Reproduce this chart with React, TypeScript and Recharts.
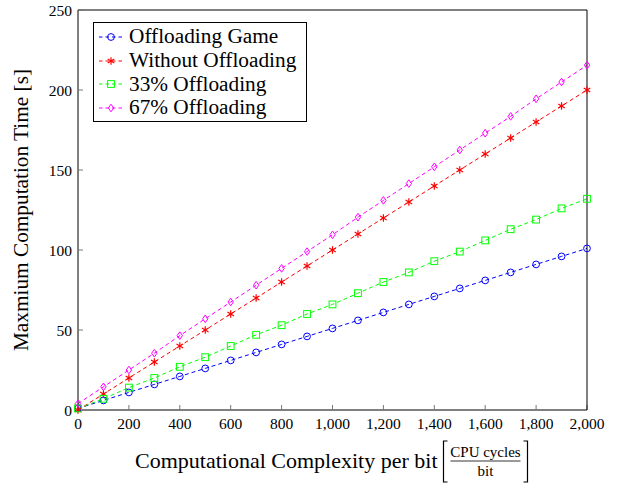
import React from 'react';
import { LineChart, Line, XAxis, YAxis, Legend } from 'recharts';

const X_VALUES = [0, 100, 200, 300, 400, 500, 600, 700, 800, 900, 1000, 1100, 1200, 1300, 1400, 1500, 1600, 1700, 1800, 1900, 2000];
const GAME = [1, 6, 11, 16, 21, 26, 31, 36, 41, 46, 51, 56, 61, 66, 71, 76, 81, 86, 91, 96, 101];
const WITHOUT = [0, 10, 20, 30, 40, 50, 60, 70, 80, 90, 100, 110, 120, 130, 140, 150, 160, 170, 180, 190, 200];
const OFF33 = [1, 7, 14, 20, 27, 33, 40, 47, 53, 60, 66, 73, 80, 86, 93, 99, 106, 113, 119, 126, 132];
const OFF67 = [4, 14.5, 25, 35.5, 46.5, 57, 67.5, 78, 88.5, 99, 109.5, 120.5, 131, 141.5, 152, 162.5, 173, 183.5, 194.5, 205, 215.5];

const X_TICKS = [0, 200, 400, 600, 800, 1000, 1200, 1400, 1600, 1800, 2000];
const Y_TICKS = [0, 50, 100, 150, 200, 250];

const data = X_VALUES.map((x, i) => ({
  x,
  game: GAME[i],
  without: WITHOUT[i],
  off33: OFF33[i],
  off67: OFF67[i],
}));

const FONT = '"Liberation Serif", "Times New Roman", serif';
const BLUE = '#0000ff';
const RED = '#ff0000';
const GREEN = '#00ff00';
const MAGENTA = '#ff00ff';
const DASH = '4 3';

const CircleMark = ({ cx, cy, color }: any) => (
  <circle cx={cx} cy={cy} r={3.4} fill="none" stroke={color} strokeWidth={1} />
);

const StarMark = ({ cx, cy, color }: any) => {
  const r = 3.8;
  const a = r * 0.866;
  const b = r * 0.5;
  return (
    <g stroke={color} strokeWidth={1.2}>
      <line x1={cx} y1={cy - r} x2={cx} y2={cy + r} />
      <line x1={cx - a} y1={cy - b} x2={cx + a} y2={cy + b} />
      <line x1={cx - a} y1={cy + b} x2={cx + a} y2={cy - b} />
    </g>
  );
};

const SquareMark = ({ cx, cy, color }: any) => (
  <rect x={cx - 3.4} y={cy - 3.4} width={6.8} height={6.8} fill="none" stroke={color} strokeWidth={1} />
);

const DiamondMark = ({ cx, cy, color }: any) => (
  <polygon
    points={`${cx},${cy - 3.8} ${cx + 2.7},${cy} ${cx},${cy + 3.8} ${cx - 2.7},${cy}`}
    fill="none"
    stroke={color}
    strokeWidth={1}
  />
);

const series = [
  { key: 'game', name: 'Offloading Game', color: BLUE, Mark: CircleMark },
  { key: 'without', name: 'Without Offloading', color: RED, Mark: StarMark },
  { key: 'off33', name: '33% Offloading', color: GREEN, Mark: SquareMark },
  { key: 'off67', name: '67% Offloading', color: MAGENTA, Mark: DiamondMark },
];

const LegendBox = () => (
  <div
    style={{
      boxSizing: 'border-box',
      width: 214,
      border: '1px solid #000',
      background: '#fff',
      padding: '2px 0 1px 4px',
      fontFamily: FONT,
      fontSize: 21.3,
      color: '#000',
    }}
  >
    {series.map((s) => (
      <div key={s.key} style={{ display: 'flex', alignItems: 'center', height: 23.7 }}>
        <svg width={26} height={14} style={{ marginRight: 5, flexShrink: 0 }}>
          <line x1={1} y1={7} x2={25} y2={7} stroke={s.color} strokeWidth={1} strokeDasharray="3.5 3" />
          <s.Mark cx={13} cy={7} color={s.color} />
        </svg>
        <span style={{ whiteSpace: 'nowrap' }}>{s.name}</span>
      </div>
    ))}
  </div>
);

const XLabel = ({ viewBox }: any) => {
  const cx = viewBox.x + viewBox.width / 2;
  const base = 468;
  const bl = cx + 111;
  const br = cx + 195;
  const fc = (bl + br) / 2;
  return (
    <g fontFamily={FONT} fill="#000">
      <text x={cx + 105} y={base} textAnchor="end" fontSize={22}>
        Computational Complexity per bit
      </text>
      <path d={`M${bl + 4},441 L${bl},441 L${bl},482 L${bl + 4},482`} fill="none" stroke="#000" strokeWidth={1.2} />
      <path d={`M${br - 4},441 L${br},441 L${br},482 L${br - 4},482`} fill="none" stroke="#000" strokeWidth={1.2} />
      <text x={fc} y={456.5} textAnchor="middle" fontSize={15}>
        CPU cycles
      </text>
      <line x1={fc - 35} y1={461} x2={fc + 35} y2={461} stroke="#000" strokeWidth={0.8} />
      <text x={fc} y={475.5} textAnchor="middle" fontSize={15}>
        bit
      </text>
    </g>
  );
};

const YLabel = ({ viewBox }: any) => {
  const x = 28;
  const y = viewBox.y + viewBox.height / 2;
  return (
    <text
      x={x}
      y={y}
      transform={`rotate(-90, ${x}, ${y})`}
      textAnchor="middle"
      fontFamily={FONT}
      fontSize={21.3}
      fill="#000"
    >
      Maxmium Computation Time [s]
    </text>
  );
};

const tickStyle = { fill: '#000', fontSize: 15.5, fontFamily: FONT };
const tickLineStyle = { stroke: '#777', strokeWidth: 1 };
const axisLineStyle = { stroke: '#000', strokeWidth: 1 };

export default function App() {
  return (
    <div style={{ position: 'absolute', left: 0, top: 0, background: '#fff' }}>
      <LineChart width={630} height={485} data={data} margin={{ top: 9, right: 42, bottom: 25, left: 18 }}>
        <XAxis
          xAxisId="b"
          type="number"
          dataKey="x"
          domain={[0, 2000]}
          ticks={X_TICKS}
          tickFormatter={(v: number) => v.toLocaleString('en-US')}
          tick={tickStyle}
          tickLine={tickLineStyle}
          axisLine={axisLineStyle}
          tickSize={-5}
          tickMargin={13}
          height={50}
          label={<XLabel />}
        />
        <XAxis
          xAxisId="t"
          orientation="top"
          type="number"
          dataKey="x"
          domain={[0, 2000]}
          ticks={X_TICKS}
          tick={false}
          tickLine={tickLineStyle}
          axisLine={axisLineStyle}
          tickSize={-5}
          height={1}
        />
        <YAxis
          yAxisId="l"
          type="number"
          domain={[0, 250]}
          ticks={Y_TICKS}
          tick={tickStyle}
          tickLine={tickLineStyle}
          axisLine={axisLineStyle}
          tickSize={-5}
          tickMargin={11}
          width={60}
          label={<YLabel />}
        />
        <YAxis
          yAxisId="r"
          orientation="right"
          type="number"
          domain={[0, 250]}
          ticks={Y_TICKS}
          tick={false}
          tickLine={tickLineStyle}
          axisLine={axisLineStyle}
          tickSize={-5}
          width={1}
        />
        <Legend
          layout="vertical"
          align="center"
          verticalAlign="middle"
          content={() => <LegendBox />}
          wrapperStyle={{ left: 93, top: 22, width: 214, height: 'auto' }}
        />
        {series.map((s) => (
          <Line
            key={s.key}
            xAxisId="b"
            yAxisId="l"
            type="linear"
            dataKey={s.key}
            name={s.name}
            stroke={s.color}
            strokeWidth={1}
            strokeDasharray={DASH}
            dot={(p: any) => <s.Mark key={`${s.key}-${p.index}`} cx={p.cx} cy={p.cy} color={s.color} />}
            activeDot={false}
            isAnimationActive={false}
          />
        ))}
      </LineChart>
    </div>
  );
}
